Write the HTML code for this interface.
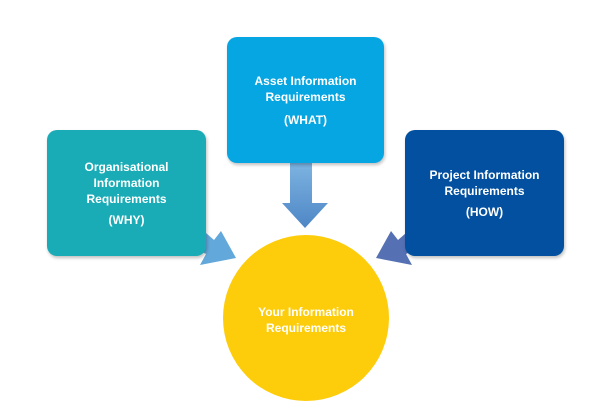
<!DOCTYPE html>
<html><head><style>
body{margin:0;background:#fff;width:600px;height:419px;overflow:hidden;position:relative;font-family:"Liberation Sans",sans-serif}
.b{position:absolute;border-radius:10px;color:#fff;font-weight:bold;font-size:12px;text-align:center;display:flex;flex-direction:column;justify-content:center;line-height:16px;box-shadow:1px 2px 3px rgba(0,0,0,.25)}
</style></head><body>
<svg width="600" height="419" style="position:absolute;left:0;top:0">
<defs>
<linearGradient id="g1" x1="0" y1="0" x2="0" y2="1"><stop offset="0" stop-color="#7fb6e2"/><stop offset="1" stop-color="#4e86c6"/></linearGradient>
</defs>
<polygon points="290,160 312,160 312,203 328,203 305,228 282,203 290,203" fill="url(#g1)"/>
<polygon points="198,226 214,240 221,231 236,258 200,265 206,254 190,246" fill="#62a8da"/>
<polygon points="414,226 398,240 391,231 376,258 412,265 406,254 422,246" fill="#5571b4"/>
<circle cx="306" cy="318" r="83" fill="#fdcc0a"/>
</svg>
<div class="b" style="left:227px;top:37px;width:157px;height:126px;background:#06a6e2"><div>Asset Information<br>Requirements</div><div style="margin-top:7px">(WHAT)</div></div>
<div class="b" style="left:47px;top:130px;width:159px;height:126px;background:#19acb6"><div>Organisational<br>Information<br>Requirements</div><div style="margin-top:5px">(WHY)</div></div>
<div class="b" style="left:405px;top:130px;width:159px;height:126px;background:#02509f"><div>Project Information<br>Requirements</div><div style="margin-top:5px">(HOW)</div></div>
<div style="position:absolute;left:223px;top:304px;width:166px;text-align:center;color:#fff;font-weight:bold;font-size:12px;line-height:16px">Your Information<br>Requirements</div>
</body></html>
